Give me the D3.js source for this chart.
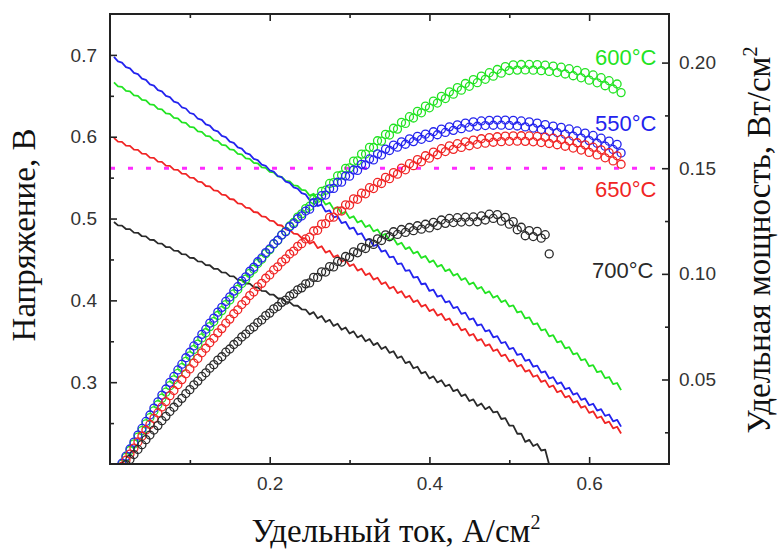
<!DOCTYPE html>
<html><head><meta charset="utf-8">
<script src="https://cdn.jsdelivr.net/npm/d3@7"></script>
<style>body{margin:0;background:#fff}</style>
</head><body><svg id="c" width="780" height="549"></svg>
<script>
// ---------------- DATA ----------------
const current = [
0.005,0.010,0.015,0.020,0.025,0.030,0.035,0.040,0.045,0.050,
0.055,0.060,0.065,0.070,0.075,0.080,0.085,0.090,0.095,0.100,
0.105,0.110,0.115,0.120,0.125,0.130,0.135,0.140,0.145,0.150,
0.155,0.160,0.165,0.170,0.175,0.180,0.185,0.190,0.195,0.200,
0.205,0.210,0.215,0.220,0.225,0.230,0.235,0.240,0.245,0.250,
0.255,0.260,0.265,0.270,0.275,0.280,0.285,0.290,0.295,0.300,
0.305,0.310,0.315,0.320,0.325,0.330,0.335,0.340,0.345,0.350,
0.355,0.360,0.365,0.370,0.375,0.380,0.385,0.390,0.395,0.400,
0.405,0.410,0.415,0.420,0.425,0.430,0.435,0.440,0.445,0.450,
0.455,0.460,0.465,0.470,0.475,0.480,0.485,0.490,0.495,0.500,
0.505,0.510,0.515,0.520,0.525,0.530,0.535,0.540,0.545,0.550,
0.555,0.560,0.565,0.570,0.575,0.580,0.585,0.590,0.595,0.600,
0.605,0.610,0.615,0.620,0.625,0.630,0.635,0.640];

const voltage550 = [
.6975,.6920,.6905,.6850,.6835,.6780,.6765,.6710,.6695,.6640,
.6625,.6570,.6555,.6500,.6485,.6430,.6415,.6360,.6345,.6290,
.6275,.6220,.6205,.6150,.6135,.6080,.6065,.6010,.5995,.5940,
.5925,.5870,.5855,.5800,.5785,.5730,.5715,.5660,.5645,.5590,
.5575,.5520,.5505,.5450,.5435,.5380,.5365,.5310,.5295,.5225,
.5240,.5155,.5170,.5085,.5100,.5015,.5030,.4945,.4960,.4875,
.4890,.4805,.4820,.4735,.4750,.4665,.4680,.4595,.4610,.4525,
.4534,.4443,.4452,.4361,.4370,.4279,.4288,.4197,.4206,.4115,
.4130,.4045,.4060,.3975,.3990,.3905,.3920,.3835,.3850,.3765,
.3779,.3693,.3707,.3621,.3635,.3549,.3563,.3477,.3491,.3405,
.3419,.3333,.3347,.3261,.3275,.3189,.3203,.3117,.3131,.3045,
.3062,.2980,.2997,.2914,.2932,.2849,.2866,.2784,.2801,.2718,
.2736,.2653,.2670,.2588,.2605,.2522,.2540,.2457];

const power550 = [
.00349,.00692,.01036,.01370,.01709,.02034,.02368,.02684,.03013,.03320,
.03644,.03942,.04261,.04550,.04864,.05144,.05453,.05724,.06028,.06290,
.06589,.06842,.07136,.07380,.07669,.07904,.08188,.08414,.08693,.08910,
.09184,.09392,.09661,.09860,.10124,.10314,.10573,.10754,.11008,.11180,
.11429,.11592,.11836,.11990,.12229,.12374,.12608,.12744,.12973,.13063,
.13362,.13403,.13701,.13730,.14025,.14042,.14336,.14341,.14632,.14625,
.14915,.14896,.15183,.15152,.15438,.15395,.15678,.15623,.15905,.15838,
.16096,.15995,.16250,.16136,.16388,.16260,.16509,.16368,.16614,.16460,
.16727,.16585,.16849,.16695,.16958,.16792,.17052,.16874,.17133,.16943,
.17194,.16988,.17238,.17019,.17266,.17035,.17281,.17037,.17280,.17025,
.17266,.16998,.17237,.16957,.17194,.16902,.17136,.16832,.17064,.16748,
.16994,.16688,.16933,.16610,.16859,.16524,.16766,.16426,.16666,.16308,
.16553,.16183,.16421,.16046,.16281,.15889,.16129,.15725];

const voltage600 = [
.6663,.6615,.6608,.6560,.6553,.6505,.6498,.6450,.6443,.6395,
.6388,.6340,.6333,.6285,.6278,.6230,.6223,.6175,.6168,.6120,
.6113,.6065,.6058,.6010,.6003,.5955,.5948,.5900,.5893,.5845,
.5838,.5790,.5783,.5735,.5728,.5680,.5673,.5625,.5618,.5570,
.5563,.5515,.5508,.5460,.5453,.5405,.5398,.5350,.5343,.5280,
.5303,.5225,.5248,.5170,.5193,.5115,.5138,.5060,.5083,.5005,
.5028,.4951,.4974,.4897,.4920,.4843,.4866,.4789,.4812,.4735,
.4758,.4681,.4704,.4627,.4650,.4573,.4596,.4519,.4542,.4465,
.4488,.4411,.4434,.4357,.4380,.4303,.4326,.4249,.4272,.4195,
.4218,.4141,.4164,.4087,.4110,.4033,.4056,.3979,.4002,.3925,
.3939,.3852,.3866,.3779,.3793,.3706,.3720,.3633,.3647,.3560,
.3574,.3487,.3501,.3414,.3428,.3341,.3355,.3268,.3282,.3195,
.3209,.3122,.3136,.3049,.3063,.2976,.2990,.2903];

const power600 = [
.00333,.00662,.00991,.01312,.01638,.01952,.02274,.02580,.02899,.03198,
.03513,.03804,.04116,.04400,.04708,.04984,.05289,.05558,.05859,.06120,
.06418,.06672,.06966,.07212,.07503,.07742,.08029,.08260,.08544,.08768,
.09048,.09264,.09541,.09750,.10023,.10224,.10494,.10688,.10954,.11140,
.11404,.11582,.11841,.12012,.12268,.12432,.12684,.12840,.13089,.13200,
.13522,.13585,.13906,.13959,.14280,.14322,.14642,.14674,.14994,.15015,
.15335,.15348,.15668,.15670,.15990,.15982,.16301,.16283,.16601,.16573,
.16891,.16852,.17170,.17120,.17438,.17377,.17695,.17624,.17941,.17860,
.18176,.18085,.18401,.18299,.18615,.18503,.18818,.18696,.19010,.18878,
.19192,.19049,.19363,.19209,.19523,.19358,.19672,.19497,.19810,.19625,
.19892,.19645,.19910,.19651,.19913,.19642,.19902,.19618,.19876,.19580,
.19836,.19527,.19781,.19460,.19711,.19378,.19627,.19281,.19528,.19170,
.19414,.19044,.19286,.18904,.19144,.18749,.18987,.18579];

const voltage650 = [
.5986,.5941,.5937,.5892,.5888,.5843,.5839,.5794,.5790,.5745,
.5741,.5696,.5692,.5647,.5643,.5598,.5594,.5549,.5545,.5500,
.5496,.5451,.5445,.5398,.5392,.5345,.5339,.5292,.5286,.5239,
.5233,.5186,.5180,.5133,.5127,.5080,.5074,.5027,.5021,.4974,
.4968,.4921,.4915,.4868,.4862,.4815,.4809,.4762,.4756,.4694,
.4717,.4639,.4662,.4584,.4607,.4529,.4552,.4474,.4497,.4419,
.4442,.4364,.4387,.4309,.4332,.4254,.4277,.4199,.4222,.4144,
.4167,.4089,.4112,.4034,.4057,.3979,.4002,.3924,.3947,.3869,
.3892,.3814,.3837,.3759,.3778,.3696,.3715,.3633,.3652,.3570,
.3589,.3507,.3526,.3444,.3463,.3381,.3400,.3318,.3337,.3255,
.3274,.3192,.3211,.3129,.3148,.3066,.3085,.3003,.3022,.2940,
.2959,.2877,.2896,.2814,.2833,.2751,.2770,.2688,.2707,.2625,
.2644,.2562,.2581,.2499,.2518,.2436,.2455,.2373];

const power650 = [
.00299,.00594,.00891,.01178,.01472,.01753,.02044,.02318,.02606,.02873,
.03158,.03418,.03700,.03953,.04232,.04478,.04755,.04994,.05268,.05500,
.05771,.05996,.06262,.06478,.06740,.06949,.07208,.07409,.07665,.07859,
.08111,.08298,.08547,.08726,.08972,.09144,.09387,.09551,.09791,.09948,
.10184,.10334,.10567,.10710,.10940,.11075,.11301,.11429,.11652,.11735,
.12028,.12061,.12354,.12377,.12669,.12681,.12973,.12975,.13266,.13257,
.13548,.13528,.13819,.13789,.14079,.14038,.14328,.14277,.14566,.14504,
.14793,.14720,.15009,.14926,.15214,.15120,.15408,.15304,.15591,.15476,
.15763,.15637,.15924,.15788,.16057,.15893,.16160,.15985,.16251,.16065,
.16330,.16132,.16396,.16187,.16449,.16229,.16490,.16258,.16518,.16275,
.16534,.16279,.16537,.16271,.16527,.16250,.16505,.16216,.16470,.16170,
.16422,.16111,.16362,.16040,.16290,.15956,.16205,.15859,.16107,.15750,
.15996,.15628,.15873,.15494,.15738,.15347,.15589,.15187];

const voltage700 = [
.4958,.4916,.4914,.4872,.4870,.4828,.4826,.4784,.4782,.4740,
.4738,.4696,.4694,.4652,.4650,.4608,.4606,.4564,.4562,.4520,
.4518,.4476,.4474,.4431,.4429,.4386,.4384,.4341,.4339,.4296,
.4294,.4251,.4249,.4206,.4204,.4161,.4159,.4116,.4114,.4071,
.4069,.4026,.4024,.3981,.3979,.3936,.3934,.3891,.3888,.3829,
.3856,.3782,.3809,.3735,.3762,.3688,.3715,.3641,.3668,.3594,
.3621,.3547,.3574,.3500,.3527,.3453,.3480,.3406,.3433,.3359,
.3378,.3296,.3315,.3233,.3252,.3170,.3189,.3107,.3126,.3044,
.3071,.2997,.3024,.2950,.2970,.2890,.2910,.2830,.2850,.2770,
.2790,.2710,.2740,.2670,.2700,.2630,.2640,.2550,.2560,.2470,
.2470,.2370,.2370,.2270,.2295,.2220,.2245,.2165,.2175,.1990];

const power700 = [
.00248,.00492,.00737,.00974,.01218,.01448,.01689,.01914,.02152,.02370,
.02606,.02818,.03051,.03256,.03488,.03686,.03915,.04108,.04334,.04520,
.04744,.04924,.05145,.05317,.05536,.05702,.05918,.06077,.06292,.06444,
.06656,.06802,.07011,.07150,.07357,.07490,.07694,.07820,.08022,.08142,
.08341,.08455,.08652,.08758,.08953,.09053,.09245,.09338,.09526,.09573,
.09833,.09833,.10094,.10085,.10346,.10326,.10588,.10559,.10821,.10782,
.11044,.10996,.11258,.11200,.11463,.11395,.11658,.11580,.11844,.11757,
.11992,.11866,.12100,.11962,.12195,.12046,.12278,.12117,.12348,.12176,
.12438,.12288,.12550,.12390,.12623,.12427,.12659,.12452,.12683,.12465,
.12695,.12466,.12741,.12549,.12825,.12624,.12804,.12495,.12672,.12350,
.12474,.12087,.12206,.11804,.12049,.11766,.12011,.11691,.11854,.10945];

const tempLabels = ["600°C", "550°C", "650°C", "700°C"];
const xMajor = [0.2, 0.4, 0.6];
const xMinor = [0.1, 0.3, 0.5];
const vMajor = [0.3, 0.4, 0.5, 0.6, 0.7];
const vMinor = [0.25, 0.35, 0.45, 0.55, 0.65];
const pMajor = [0.05, 0.10, 0.15, 0.20];
const pMinor = [0.025, 0.075, 0.125, 0.175];
const powerLevel = 0.15;
const xTitle = "Удельный ток, А/см";
const yLeftTitle = "Напряжение, В";
const yRightTitle = "Удельная мощность, Вт/см";

// ---------------- CHART ----------------
const W = 780, H = 549, L = 110, R = 669, T = 14, B = 464;
const svg = d3.select("#c");
svg.append("rect").attr("width", W).attr("height", H).attr("fill", "#fff");

const x = d3.scaleLinear().domain([0, 0.7]).range([L, R]);
const yV = d3.scaleLinear().domain([0.2, 0.75]).range([B, T]);
const yP = d3.scaleLinear().domain([0.01, 0.223]).range([B, T]);

svg.append("defs").append("clipPath").attr("id", "plot")
  .append("rect").attr("x", L).attr("y", T).attr("width", R - L).attr("height", B - T);

const series = [
  {label: tempLabels[0], color: "#22e322", v: voltage600, p: power600, ly: 65, lx: 595},
  {label: tempLabels[1], color: "#2323ee", v: voltage550, p: power550, ly: 131, lx: 595},
  {label: tempLabels[2], color: "#f02424", v: voltage650, p: power650, ly: 197, lx: 595},
  {label: tempLabels[3], color: "#2a2a2a", v: voltage700, p: power700, ly: 278, lx: 592}
];

const plot = svg.append("g").attr("clip-path", "url(#plot)");

// magenta dotted level line
plot.append("line")
  .attr("x1", x(0)).attr("x2", x(0.7))
  .attr("y1", yP(powerLevel)).attr("y2", yP(powerLevel))
  .attr("stroke", "#ff2cff").attr("stroke-width", 3)
  .attr("stroke-dasharray", "5,13");

series.forEach(s => {
  const line = d3.line().x((d, i) => x(current[i])).y(d => yV(d));
  plot.append("path").datum(s.v).attr("d", line)
    .attr("fill", "none").attr("stroke", s.color).attr("stroke-width", 1.8)
    .attr("stroke-linejoin", "round");
});

series.forEach(s => {
  plot.append("g").selectAll("circle").data(s.p).join("circle")
    .attr("cx", (d, i) => x(current[i]))
    .attr("cy", d => yP(d))
    .attr("r", 4)
    .attr("fill", "none")
    .attr("stroke", s.color)
    .attr("stroke-width", 1.3);
});

// axes
function styleAxis(g) {
  g.select(".domain").remove();
  g.selectAll(".tick line").attr("stroke", "#222").attr("stroke-width", 1.6);
  g.selectAll(".tick text").attr("fill", "#333")
    .style("font-family", "'Liberation Sans', Arial, sans-serif").style("font-size", "19px");
}
svg.append("g").attr("transform", `translate(0,${B})`)
  .call(d3.axisBottom(x).tickValues(xMajor).tickSize(-7).tickPadding(13).tickFormat(d3.format(".1f"))).call(styleAxis);
svg.append("g").attr("transform", `translate(0,${B})`)
  .call(d3.axisBottom(x).tickValues(xMinor).tickSize(-4).tickFormat("")).call(styleAxis);
svg.append("g").attr("transform", `translate(0,${T})`)
  .call(d3.axisTop(x).tickValues(xMajor).tickSize(-7).tickFormat("")).call(styleAxis);
svg.append("g").attr("transform", `translate(0,${T})`)
  .call(d3.axisTop(x).tickValues(xMinor).tickSize(-4).tickFormat("")).call(styleAxis);
svg.append("g").attr("transform", `translate(${L},0)`)
  .call(d3.axisLeft(yV).tickValues(vMajor).tickSize(-7).tickPadding(13).tickFormat(d3.format(".1f"))).call(styleAxis);
svg.append("g").attr("transform", `translate(${L},0)`)
  .call(d3.axisLeft(yV).tickValues(vMinor).tickSize(-4).tickFormat("")).call(styleAxis);
svg.append("g").attr("transform", `translate(${R},0)`)
  .call(d3.axisRight(yP).tickValues(pMajor).tickSize(-7).tickPadding(10).tickFormat(d3.format(".2f"))).call(styleAxis);
svg.append("g").attr("transform", `translate(${R},0)`)
  .call(d3.axisRight(yP).tickValues(pMinor).tickSize(-4).tickFormat("")).call(styleAxis);

// frame
svg.append("rect").attr("x", L).attr("y", T).attr("width", R - L).attr("height", B - T)
  .attr("fill", "none").attr("stroke", "#222").attr("stroke-width", 2);

// temperature labels
svg.selectAll("text.temp").data(series).join("text").attr("class", "temp")
  .attr("x", d => d.lx).attr("y", d => d.ly)
  .attr("fill", d => d.color)
  .style("font-family", "'Liberation Sans', Arial, sans-serif").style("font-size", "22px")
  .text(d => d.label);

// titles
const serif = "'Liberation Serif', 'Times New Roman', serif";
const xt = svg.append("text").attr("x", 396).attr("y", 542).attr("text-anchor", "middle")
  .style("font-family", serif).style("font-size", "33px").attr("fill", "#111");
xt.append("tspan").text(xTitle);
xt.append("tspan").attr("dy", -13).style("font-size", "20px").text("2");

svg.append("text").attr("transform", "translate(35,235) rotate(-90)").attr("text-anchor", "middle")
  .style("font-family", serif).style("font-size", "33px").attr("fill", "#111").text(yLeftTitle);

const yt = svg.append("text").attr("transform", "translate(770,240) rotate(-90)").attr("text-anchor", "middle")
  .style("font-family", serif).style("font-size", "33px").attr("fill", "#111");
yt.append("tspan").text(yRightTitle);
yt.append("tspan").attr("dy", -13).style("font-size", "20px").text("2");
</script></body></html>
